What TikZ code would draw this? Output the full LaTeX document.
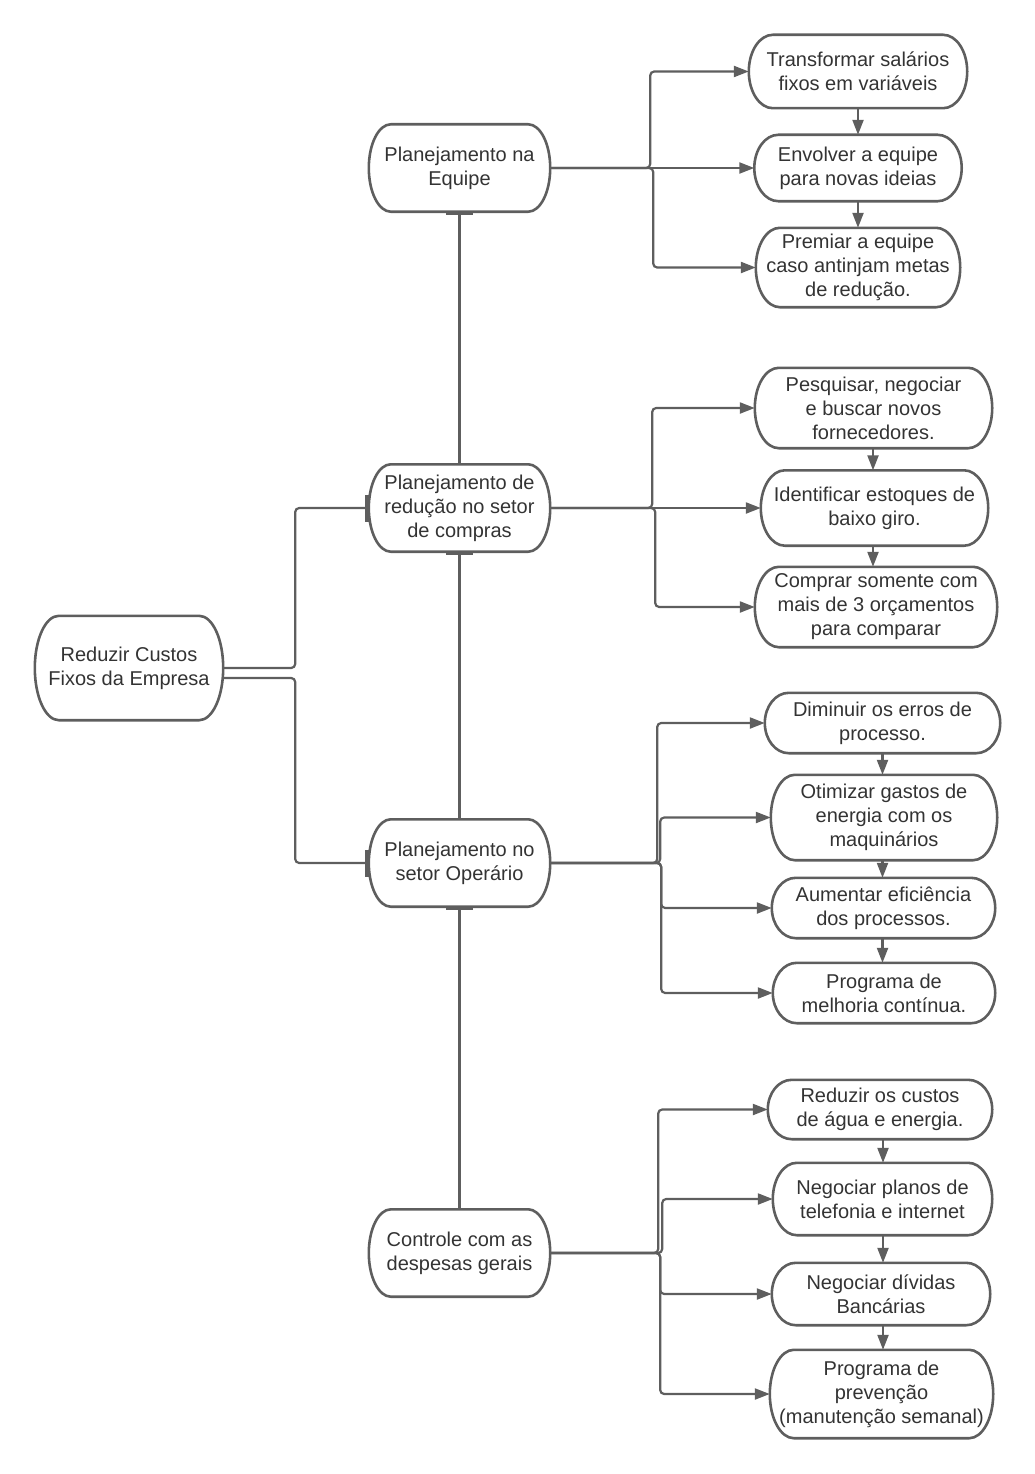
\documentclass[tikz,border=0pt]{standalone}
\usepackage{fontspec}
\setmainfont{Liberation Sans}
\usetikzlibrary{arrows.meta,calc}
\definecolor{linec}{HTML}{5E5E5E}
\definecolor{textc}{HTML}{333333}
\newcommand\pillbox[2]{%
  \draw[boxline] let \p1=(#1.north west), \p2=(#1.south east), \n1={(\y1-\y2)/2} in
    (\x1+#2pt,\y1) -- (\x2-#2pt,\y1)
    arc[start angle=90,end angle=-90,x radius=#2pt,y radius=\n1]
    -- (\x1+#2pt,\y2)
    arc[start angle=270,end angle=90,x radius=#2pt,y radius=\n1] -- cycle;}
\begin{document}
\begin{tikzpicture}[x=1pt,y=-1pt,
  txt/.style={align=center, font=\fontsize{20}{24}\selectfont, text=textc, inner sep=0pt},
  lone/.style={txt, minimum width=181pt, minimum height=87pt},
  boxline/.style={draw=linec, line width=2.6pt},
  conn/.style={draw=linec, line width=2.2pt, rounded corners=4pt},
  arr/.style={conn, -{Triangle[length=15pt,width=11pt]}},
  barstart/.style={conn, {Bar[width=27pt,line width=3.5pt]}-},
  barend/.style={conn, -{Bar[width=27pt,line width=3.5pt]}}]
\useasboundingbox (0,0) rectangle (1034,1474);

% root
\node[txt, minimum width=188pt, minimum height=104pt] (root) at (129,668) {Reduzir Custos\\Fixos da Empresa};
% level 1
\node[lone] (A) at (459.5,168) {Planejamento na\\Equipe};
\node[lone] (B) at (459.5,508) {Planejamento de\\redução no setor\\de compras};
\node[lone] (C) at (459.5,863) {Planejamento no\\setor Operário};
\node[lone] (D) at (459.5,1253) {Controle com as\\despesas gerais};
% A children
\node[txt, minimum width=218pt, minimum height=73pt] (A1) at (858,71.5) {Transformar salários\\fixos em variáveis};
\node[txt, minimum width=207pt, minimum height=66pt] (A2) at (858,168) {Envolver a equipe\\para novas ideias};
\node[txt, minimum width=204pt, minimum height=79pt] (A3) at (858,267.5) {Premiar a equipe\\caso antinjam metas\\de redução.};
% B children
\node[txt, minimum width=237pt, minimum height=80pt] (B1) at (873.5,408) {Pesquisar, negociar\\e buscar novos\\fornecedores.};
\node[txt, minimum width=227pt, minimum height=75pt] (B2) at (874.5,508) {Identificar estoques de\\baixo giro.};
\node[txt, minimum width=242pt, minimum height=80pt] (B3) at (876,607) {Comprar somente com\\mais de 3 orçamentos\\para comparar};
% C children
\node[txt, minimum width=235pt, minimum height=60pt] (C1) at (882.5,723) {Diminuir os erros de\\processo.};
\node[txt, minimum width=226pt, minimum height=85pt] (C2) at (884,817.5) {Otimizar gastos de\\energia com os\\maquinários};
\node[txt, minimum width=223pt, minimum height=60pt] (C3) at (883.5,908) {Aumentar eficiência\\dos processos.};
\node[txt, minimum width=222pt, minimum height=60pt] (C4) at (884,993) {Programa de\\melhoria contínua.};
% D children
\node[txt, minimum width=224pt, minimum height=59pt] (D1) at (880,1109.5) {Reduzir os custos\\de água e energia.};
\node[txt, minimum width=219pt, minimum height=72pt] (D2) at (882.5,1199) {Negociar planos de\\telefonia e internet};
\node[txt, minimum width=218pt, minimum height=62pt] (D3) at (881,1294) {Negociar dívidas\\Bancárias};
\node[txt, minimum width=223pt, minimum height=88pt] (D4) at (881.5,1394) {Programa de\\prevenção\\(manutenção semanal)};

% box outlines
\pillbox{root}{24}
\foreach \nm in {A,B,C,D}{\pillbox{\nm}{22}}
\foreach \nm in {A1,A2,A3,B1,B2,B3,C1,C2,C3,C4,D1,D2,D3,D4}{\pillbox{\nm}{24}}

% spine
\draw[barstart] (A.south) -- (A.south |- B.north);
\draw[barstart] (B.south) -- (B.south |- C.north);
\draw[barstart] (C.south) -- (C.south |- D.north);

% root connectors
\draw[barend] (root.east) -- ++(72,0) |- (B.west);
\draw[barend] ([yshift=-10pt]root.east) -- ++(72,0) |- (C.west);

% A branch
\draw[arr] (A.east) -- ++(100,0) |- (A1.west);
\draw[arr] (A.east) -- (A2.west);
\draw[arr] (A.east) -- ++(103,0) |- (A3.west);
\draw[arr] (A1.south) -- (A1.south |- A2.north);
\draw[arr] (A2.south) -- (A2.south |- A3.north);

% B branch
\draw[arr] (B.east) -- ++(102,0) |- (B1.west);
\draw[arr] (B.east) -- (B2.west);
\draw[arr] (B.east) -- ++(105,0) |- (B3.west);
\draw[arr] ([xshift=-0.5pt]B1.south) -- ([xshift=-0.5pt]B1.south |- B2.north);
\draw[arr] ([xshift=-1.5pt]B2.south) -- ([xshift=-1.5pt]B2.south |- B3.north);

% C branch
\draw[arr] (C.east) -- ++(107,0) |- (C1.west);
\draw[arr] (C.east) -- ++(110,0) |- (C2.west);
\draw[arr] (C.east) -- ++(111,0) |- (C3.west);
\draw[arr] (C.east) -- ++(111,0) |- (C4.west);
\draw[arr] (C1.south) -- (C1.south |- C2.north);
\draw[arr] (C1.south |- C2.south) -- (C1.south |- C3.north);
\draw[arr] (C1.south |- C3.south) -- (C1.south |- C4.north);

% D branch
\draw[arr] (D.east) -- ++(108,0) |- (D1.west);
\draw[arr] (D.east) -- ++(112,0) |- (D2.west);
\draw[arr] (D.east) -- ++(110,0) |- (D3.west);
\draw[arr] (D.east) -- ++(110,0) |- (D4.west);
\draw[arr] ([xshift=3pt]D1.south) -- ([xshift=3pt]D1.south |- D2.north);
\draw[arr] ([xshift=3pt]D1.south |- D2.south) -- ([xshift=3pt]D1.south |- D3.north);
\draw[arr] ([xshift=3pt]D1.south |- D3.south) -- ([xshift=3pt]D1.south |- D4.north);
\end{tikzpicture}
\end{document}
